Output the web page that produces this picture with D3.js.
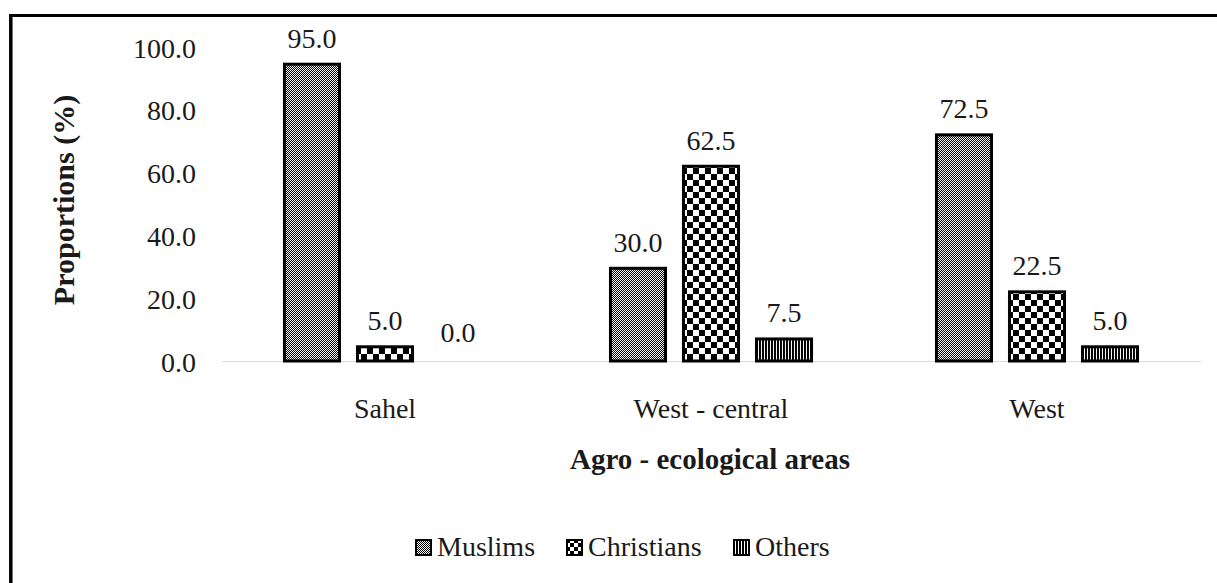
<!DOCTYPE html>
<html><head><meta charset="utf-8">
<script src="https://cdn.jsdelivr.net/npm/d3@7"></script>
<style>
html,body{margin:0;padding:0;background:#fff;}
svg{display:block;}
svg text{font-family:"Liberation Serif","Times New Roman",serif !important;}
</style></head>
<body><svg id="c" width="1217" height="583"></svg>
<script>
const categories = ["Sahel", "West - central", "West"];
const seriesNames = ["Muslims", "Christians", "Others"];
const muslims = [95.0, 30.0, 72.5];
const christians = [5.0, 62.5, 22.5];
const others = [0.0, 7.5, 5.0];
const yTicks = [0, 20, 40, 60, 80, 100];
const seriesValues = [muslims, christians, others];

const FONT = '"Liberation Serif", "Times New Roman", serif';
const TXT = "#1a1a1a";
const svg = d3.select("#c");
const defs = svg.append("defs");
// Muslims: fine dither
const p1 = defs.append("pattern").attr("id","pat0").attr("width",2).attr("height",2).attr("patternUnits","userSpaceOnUse");
p1.append("rect").attr("width",2).attr("height",2).attr("fill","#fff");
p1.append("rect").attr("width",1).attr("height",1).attr("fill","#000");
p1.append("rect").attr("x",1).attr("y",1).attr("width",1).attr("height",1).attr("fill","#000");
// Christians: large checker
const p2 = defs.append("pattern").attr("id","pat1").attr("width",12).attr("height",12).attr("patternUnits","userSpaceOnUse");
p2.append("rect").attr("width",12).attr("height",12).attr("fill","#fff");
p2.append("rect").attr("width",6).attr("height",6).attr("fill","#000");
p2.append("rect").attr("x",6).attr("y",6).attr("width",6).attr("height",6).attr("fill","#000");
// Others: vertical stripes
const p3 = defs.append("pattern").attr("id","pat2").attr("width",3).attr("height",3).attr("patternUnits","userSpaceOnUse");
p3.append("rect").attr("width",3).attr("height",3).attr("fill","#fff");
p3.append("rect").attr("width",2).attr("height",3).attr("fill","#000");
// legend checker (smaller)
const lp = defs.append("pattern").attr("id","lpat1").attr("width",8).attr("height",8).attr("patternUnits","userSpaceOnUse");
lp.append("rect").attr("width",8).attr("height",8).attr("fill","#fff");
lp.append("rect").attr("width",4).attr("height",4).attr("fill","#000");
lp.append("rect").attr("x",4).attr("y",4).attr("width",4).attr("height",4).attr("fill","#000");
const fills = ["url(#pat0)","url(#pat1)","url(#pat2)"];
const legendFills = ["url(#pat0)","url(#lpat1)","url(#pat2)"];

function styleText(sel, size, bold) {
  return sel.attr("font-family", "Liberation Serif")
    .style("font-family", FONT, "important")
    .style("font-size", size + "px")
    .style("font-weight", bold ? "bold" : "normal").style("fill", TXT);
}

// frame
svg.append("line").attr("x1",9).attr("x2",1217).attr("y1",15.5).attr("y2",15.5).attr("stroke","#000").attr("stroke-width",3);
svg.append("line").attr("x1",10.8).attr("x2",10.8).attr("y1",14).attr("y2",583).attr("stroke","#000").attr("stroke-width",3.5);

const x0 = d3.scaleBand().domain(categories).range([222,1200]).paddingInner(0.374).paddingOuter(0.187);
const x1 = d3.scaleBand().domain(seriesNames).range([0, x0.bandwidth()]).paddingInner(0.205);
const y = d3.scaleLinear().domain([0,100]).range([361,47]);

// baseline
svg.append("line").attr("x1",222).attr("x2",1201).attr("y1",361.5).attr("y2",361.5).attr("stroke","#d9d9d9").attr("stroke-width",1.2);

// y tick labels
const yAxis = d3.axisLeft(y).tickValues(yTicks).tickFormat(d3.format(".1f")).tickSize(0).tickPadding(0);
const ga = svg.append("g").attr("transform","translate(196,0)").call(yAxis);
ga.select(".domain").remove();
ga.attr("font-family", null);
styleText(ga.selectAll("text"), 28, false).attr("dy","0.36em");

// bars
const groups = svg.append("g").selectAll("g").data(categories).join("g")
  .attr("transform", d => `translate(${x0(d)},0)`);
groups.each(function(cat, ci){
  const g = d3.select(this);
  seriesNames.forEach((s, si) => {
    const v = seriesValues[si][ci];
    if (v > 0) {
      g.append("rect").attr("x", x1(s)+1.5).attr("y", y(v)+1.5)
        .attr("width", x1.bandwidth()-3).attr("height", y(0)-y(v)-1.5)
        .attr("fill", fills[si]).attr("stroke","#000").attr("stroke-width",3);
    }
    styleText(g.append("text"), 28, false)
      .attr("x", x1(s)+x1.bandwidth()/2).attr("y", y(v)-(v===0?19:15))
      .attr("text-anchor","middle").text(d3.format(".1f")(v));
  });
});

// category labels
styleText(svg.append("g").selectAll("text").data(categories).join("text"), 28, false)
  .attr("x", d => x0(d)+x0.bandwidth()/2).attr("y", 418)
  .attr("text-anchor","middle").text(d => d);

// axis titles
styleText(svg.append("text"), 29, true).attr("x", 710).attr("y", 469).attr("text-anchor","middle")
  .text("Agro - ecological areas");
styleText(svg.append("text"), 30, true).attr("transform","translate(74,200) rotate(-90)").attr("text-anchor","middle")
  .text("Proportions (%)");

// legend
const legendX = [415, 566, 733];
const lg = svg.append("g").selectAll("g").data(seriesNames).join("g")
  .attr("transform", (d,i) => `translate(${legendX[i]},539)`);
lg.append("rect").attr("x",1).attr("y",1).attr("width",15).attr("height",15)
  .attr("fill",(d,i)=>legendFills[i]).attr("stroke","#000").attr("stroke-width",2);
styleText(lg.append("text"), 28, false).attr("x",22).attr("y",17).text(d=>d);
</script></body></html>
